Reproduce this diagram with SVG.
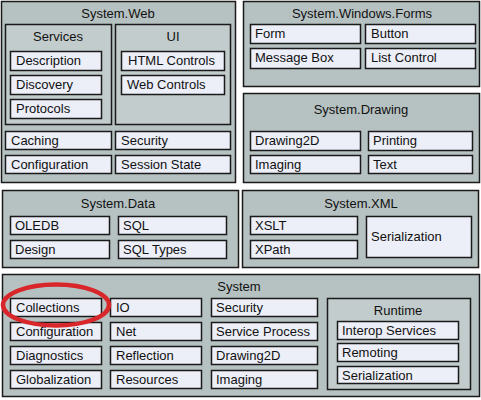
<svg xmlns="http://www.w3.org/2000/svg" width="481" height="400" viewBox="0 0 481 400">
<style>
.pkg{fill:#b6c1c1;stroke:#1a1a1a;stroke-width:1.5}
.sub{fill:#c3cccc;stroke:#1a1a1a;stroke-width:1.5}
.leaf{fill:#eceef8;stroke:#1a1a1a;stroke-width:1.5}
text{font-family:"Liberation Sans",Arial,sans-serif;font-size:13px;fill:#111}
.t{text-anchor:middle}
</style>
<rect width="481" height="400" fill="#ffffff"/>
<g id="system-web">
<rect class="pkg" x="1.5" y="1.5" width="234" height="181"/>
<text class="t" x="118" y="18">System.Web</text>
<g id="services">
<rect class="sub" x="5.5" y="24.5" width="106" height="100"/>
<text class="t" x="58" y="41">Services</text>
<g id="description"><rect class="leaf" x="10.5" y="51.5" width="91" height="19"/><text x="16" y="65">Description</text></g>
<g id="discovery"><rect class="leaf" x="10.5" y="75.5" width="91" height="19"/><text x="16" y="89">Discovery</text></g>
<g id="protocols"><rect class="leaf" x="10.5" y="99.5" width="91" height="19"/><text x="16" y="113">Protocols</text></g>
</g>
<g id="ui">
<rect class="sub" x="115.5" y="24.5" width="115" height="100"/>
<text class="t" x="173" y="41">UI</text>
<g id="html-controls"><rect class="leaf" x="121.5" y="51.5" width="103" height="19"/><text x="128" y="65">HTML Controls</text></g>
<g id="web-controls"><rect class="leaf" x="121.5" y="75.5" width="103" height="19"/><text x="127" y="89">Web Controls</text></g>
</g>
<g id="caching"><rect class="leaf" x="5.5" y="131.5" width="106" height="18"/><text x="11" y="145">Caching</text></g>
<g id="web-security"><rect class="leaf" x="115.5" y="131.5" width="115" height="18"/><text x="121" y="145">Security</text></g>
<g id="web-configuration"><rect class="leaf" x="5.5" y="155.5" width="106" height="18"/><text x="11" y="169">Configuration</text></g>
<g id="session-state"><rect class="leaf" x="115.5" y="155.5" width="115" height="18"/><text x="121" y="169">Session State</text></g>
</g>
<g id="system-windows-forms">
<rect class="pkg" x="243.5" y="1.5" width="236" height="85"/>
<text class="t" x="362" y="18">System.Windows.Forms</text>
<g id="form"><rect class="leaf" x="250.5" y="24.5" width="110" height="19"/><text x="255" y="38">Form</text></g>
<g id="button"><rect class="leaf" x="365.5" y="24.5" width="110" height="19"/><text x="371" y="38">Button</text></g>
<g id="message-box"><rect class="leaf" x="250.5" y="48.5" width="110" height="20"/><text x="255" y="62">Message Box</text></g>
<g id="list-control"><rect class="leaf" x="365.5" y="48.5" width="110" height="20"/><text x="371" y="62">List Control</text></g>
</g>
<g id="system-drawing">
<rect class="pkg" x="243.5" y="93.5" width="236" height="89"/>
<text class="t" x="361" y="114">System.Drawing</text>
<g id="drawing2d"><rect class="leaf" x="250.5" y="131.5" width="110" height="19"/><text x="255" y="145">Drawing2D</text></g>
<g id="printing"><rect class="leaf" x="368.5" y="131.5" width="104" height="19"/><text x="373" y="145">Printing</text></g>
<g id="drawing-imaging"><rect class="leaf" x="250.5" y="155.5" width="110" height="18"/><text x="255" y="169">Imaging</text></g>
<g id="text"><rect class="leaf" x="368.5" y="155.5" width="104" height="18"/><text x="373" y="169">Text</text></g>
</g>
<g id="system-data">
<rect class="pkg" x="2.5" y="190.5" width="236" height="77"/>
<text class="t" x="118" y="208">System.Data</text>
<g id="oledb"><rect class="leaf" x="10.5" y="216.5" width="99" height="18"/><text x="15" y="230">OLEDB</text></g>
<g id="sql"><rect class="leaf" x="118.5" y="216.5" width="108" height="18"/><text x="123" y="230">SQL</text></g>
<g id="design"><rect class="leaf" x="10.5" y="240.5" width="99" height="18"/><text x="15" y="254">Design</text></g>
<g id="sql-types"><rect class="leaf" x="118.5" y="240.5" width="108" height="18"/><text x="123" y="254">SQL Types</text></g>
</g>
<g id="system-xml">
<rect class="pkg" x="242.5" y="190.5" width="236" height="77"/>
<text class="t" x="361" y="208">System.XML</text>
<g id="xslt"><rect class="leaf" x="250.5" y="216.5" width="107" height="18"/><text x="255" y="230">XSLT</text></g>
<g id="xpath"><rect class="leaf" x="250.5" y="240.5" width="107" height="18"/><text x="255" y="254">XPath</text></g>
<g id="xml-serialization"><rect class="leaf" x="366.5" y="216.5" width="105" height="41"/><text x="371" y="241">Serialization</text></g>
</g>
<g id="system">
<rect class="pkg" x="2.5" y="274.5" width="477" height="122"/>
<text class="t" x="239" y="291">System</text>
<g id="collections"><rect class="leaf" x="10.5" y="298.5" width="91" height="18"/><text x="16" y="312">Collections</text></g>
<g id="configuration"><rect class="leaf" x="10.5" y="322.5" width="91" height="18"/><text x="16" y="336">Configuration</text></g>
<g id="diagnostics"><rect class="leaf" x="10.5" y="346.5" width="91" height="18"/><text x="16" y="360">Diagnostics</text></g>
<g id="globalization"><rect class="leaf" x="10.5" y="370.5" width="91" height="18"/><text x="16" y="384">Globalization</text></g>
<g id="io"><rect class="leaf" x="110.5" y="298.5" width="91" height="18"/><text x="116" y="312">IO</text></g>
<g id="net"><rect class="leaf" x="110.5" y="322.5" width="91" height="18"/><text x="116" y="336">Net</text></g>
<g id="reflection"><rect class="leaf" x="110.5" y="346.5" width="91" height="18"/><text x="116" y="360">Reflection</text></g>
<g id="resources"><rect class="leaf" x="110.5" y="370.5" width="91" height="18"/><text x="116" y="384">Resources</text></g>
<g id="security"><rect class="leaf" x="211.5" y="298.5" width="106" height="18"/><text x="216" y="312">Security</text></g>
<g id="service-process"><rect class="leaf" x="211.5" y="322.5" width="106" height="18"/><text x="216" y="336">Service Process</text></g>
<g id="system-drawing2d"><rect class="leaf" x="211.5" y="346.5" width="106" height="18"/><text x="216" y="360">Drawing2D</text></g>
<g id="imaging"><rect class="leaf" x="211.5" y="370.5" width="106" height="18"/><text x="216" y="384">Imaging</text></g>
<g id="runtime">
<rect class="sub" x="327.5" y="298.5" width="143" height="91"/>
<text class="t" x="398" y="315">Runtime</text>
<g id="interop-services"><rect class="leaf" x="337.5" y="321.5" width="121" height="18"/><text x="342" y="335">Interop Services</text></g>
<g id="remoting"><rect class="leaf" x="337.5" y="343.5" width="121" height="18"/><text x="342" y="357">Remoting</text></g>
<g id="runtime-serialization"><rect class="leaf" x="337.5" y="366.5" width="121" height="17"/><text x="342" y="380">Serialization</text></g>
</g>
</g>
<g id="connectors"></g>
<g id="highlight">
<ellipse cx="56" cy="305" rx="53" ry="20.5" fill="none" stroke="#d8262a" stroke-width="4.5"/>
</g>
</svg>
